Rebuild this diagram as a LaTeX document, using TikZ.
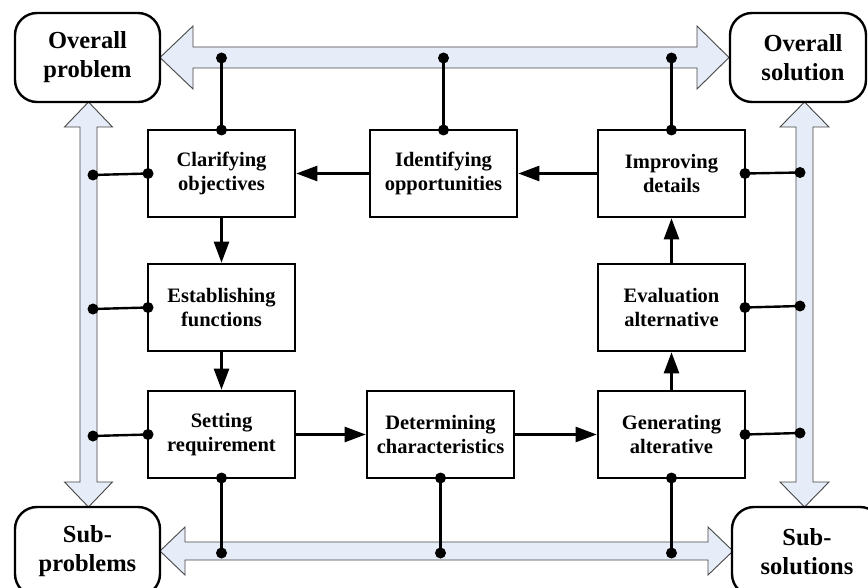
\documentclass[tikz,border=0pt]{standalone}
\usepackage{fontspec}
\setmainfont{Liberation Serif}
\usetikzlibrary{arrows.meta}
\definecolor{arrowfill}{RGB}{230,237,248}
\definecolor{arrowline}{RGB}{70,70,70}
\begin{document}
\begin{tikzpicture}[x=1pt,y=-1pt,
 box/.style={draw, line width=2.6pt, minimum width=147pt, minimum height=87pt, align=center, font=\fontsize{20.5}{23.5}\selectfont\bfseries, inner sep=0pt},
 corner/.style={draw, line width=2.4pt, rounded corners=22pt, minimum height=89pt, align=center, font=\fontsize{24.5}{29}\selectfont\bfseries, inner sep=0pt, fill=white},
 ctext/.style={align=center, font=\fontsize{24.5}{29}\selectfont\bfseries, inner sep=0pt},
 dot/.style={circle, fill=black, inner sep=0pt, minimum size=11pt},
 conn/.style={line width=2.4pt},
 flow/.style={line width=2.4pt, -{Triangle[length=21pt,width=15pt]}},
 big/.style={fill=arrowfill, draw=arrowline, line width=0.9pt}]
\useasboundingbox (0,0) rectangle (868,588);
\clip (0,0) rectangle (868,588);
\fill[white] (0,0) rectangle (868,588);
% big double arrows
\draw[big] (160,57.5) -- (193,26) -- (193,47) -- (697,47) -- (697,26) -- (729,57.5) -- (697,89) -- (697,68) -- (193,68) -- (193,89) -- cycle;
\draw[big] (160,551) -- (185,527) -- (185,542) -- (708,542) -- (708,527) -- (733,551) -- (708,575) -- (708,560) -- (185,560) -- (185,575) -- cycle;
\draw[big] (88.5,102) -- (112.5,127) -- (97,127) -- (97,482) -- (112.5,482) -- (88.5,507) -- (64.5,482) -- (80,482) -- (80,127) -- (64.5,127) -- cycle;
\draw[big] (804.5,102) -- (829,127) -- (813,127) -- (813,482) -- (829,482) -- (804.5,507) -- (780,482) -- (796,482) -- (796,127) -- (780,127) -- cycle;
% corner boxes
\node[corner, minimum width=145pt] (op) at (87.5,57.5) {Overall\\problem};
\node[corner, minimum width=136pt] (os) at (798,57.5) {};
\node[ctext] (ost) at (803,57.5) {Overall\\solution};
\node[corner, minimum width=145pt] (sp) at (87.5,551.5) {Sub-\\problems};
\node[corner, minimum width=150pt] (ss) at (807,551.5) {Sub-\\solutions};
% process boxes
\node[box] (cl) at (221.5,173.5) {Clarifying\\objectives};
\node[box] (es) at (221.5,307.5) {Establishing\\functions};
\node[box] (se) at (221.5,434.5) {Setting\\requirement};
\node[box] (id) at (443.5,173.5) {Identifying\\opportunities};
\node[box] (de) at (440.5,434.5) {Determining\\characteristics};
\node[box] (im) at (671.5,173.5) {Improving\\details};
\node[box] (ev) at (671.5,307.5) {Evaluation\\alternative};
\node[box] (ge) at (671.5,434.5) {Generating\\alterative};
% flow arrows
\draw[flow] (id) -- (cl);
\draw[flow] (im) -- (id);
\draw[flow] (cl) -- (es);
\draw[flow] (es) -- (se);
\draw[flow] (se) -- (de);
\draw[flow] (de) -- (ge);
\draw[flow] (ge) -- (ev);
\draw[flow] (ev) -- (im);
% junction dots
\node[dot] (clN) at (221.5,130) {};
\node[dot] (clT) at (221.5,58) {};
\node[dot] (idN) at (443.5,130) {};
\node[dot] (idT) at (443.5,58) {};
\node[dot] (imN) at (671.5,130) {};
\node[dot] (imT) at (671.5,58) {};
\node[dot] (seS) at (221.5,478) {};
\node[dot] (seB) at (221.5,553) {};
\node[dot] (deS) at (440.5,478) {};
\node[dot] (deB) at (440.5,553) {};
\node[dot] (geS) at (671.5,478) {};
\node[dot] (geB) at (671.5,553) {};
\node[dot] (clW) at (148,173.5) {};
\node[dot] (clL) at (93,175) {};
\node[dot] (esW) at (148,307.5) {};
\node[dot] (esL) at (93,309) {};
\node[dot] (seW) at (148,434.5) {};
\node[dot] (seL) at (93,436) {};
\node[dot] (imE) at (745,173.5) {};
\node[dot] (imR) at (800,172.5) {};
\node[dot] (evE) at (745,307.5) {};
\node[dot] (evR) at (800,306) {};
\node[dot] (geE) at (745,434.5) {};
\node[dot] (geR) at (800,433) {};
% connectors
\draw[conn] (clN.center) -- (clT.center);
\draw[conn] (idN.center) -- (idT.center);
\draw[conn] (imN.center) -- (imT.center);
\draw[conn] (seS.center) -- (seB.center);
\draw[conn] (deS.center) -- (deB.center);
\draw[conn] (geS.center) -- (geB.center);
\draw[conn] (clW.center) -- (clL.center);
\draw[conn] (esW.center) -- (esL.center);
\draw[conn] (seW.center) -- (seL.center);
\draw[conn] (imE.center) -- (imR.center);
\draw[conn] (evE.center) -- (evR.center);
\draw[conn] (geE.center) -- (geR.center);
\end{tikzpicture}
\end{document}
